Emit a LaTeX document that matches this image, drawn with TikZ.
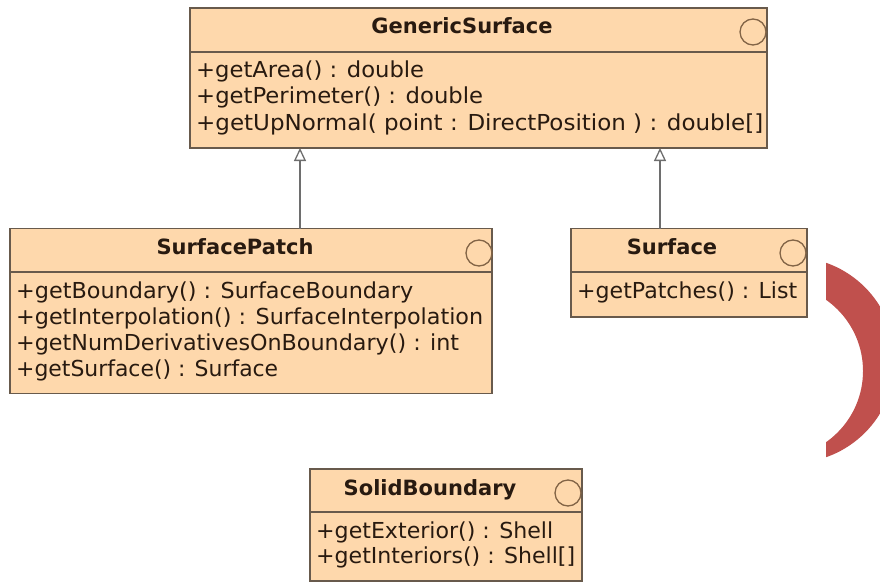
\documentclass[tikz,border=0pt]{standalone}
\usepackage{graphicx}
\usepackage{fontspec}
\setmainfont{DejaVu Sans}
\usetikzlibrary{arrows.meta}

\definecolor{classfill}{RGB}{254,216,172}
\definecolor{classedge}{RGB}{104,90,76}
\definecolor{classtext}{RGB}{40,26,16}
\definecolor{iconline}{RGB}{130,100,70}
\definecolor{linkgray}{RGB}{110,110,110}
\definecolor{accentred}{RGB}{192,80,77}

% set an operation line to a given width, keeping its natural height
\newcommand{\opline}[2]{\resizebox{#1}{\height}{#2}}

\tikzset{
  classbox/.style={draw=classedge, fill=classfill, line width=1.4pt, anchor=north west,
                   inner sep=0pt, outer sep=0pt},
  divider/.style={draw=classedge, line width=1.4pt},
  classname/.style={anchor=base, inner sep=0pt, text=classtext,
                    font=\fontsize{21}{24}\selectfont\bfseries},
  member/.style={anchor=base west, inner sep=0pt, text=classtext,
                 font=\fontsize{22}{26}\selectfont},
  icon/.style={draw=iconline, line width=1.3pt, circle, minimum size=26pt, inner sep=0pt},
  inherit/.style={draw=linkgray, line width=1.3pt,
                  -{Triangle[open, length=13pt, width=12pt, fill=white]}},
}

\begin{document}
\begin{tikzpicture}[x=1pt, y=-1pt]
\useasboundingbox (0,0) rectangle (880,583);

% --- GenericSurface ---
\node[classbox, minimum width=577pt, minimum height=140pt] (gs) at (190,8) {};
\draw[divider] ([yshift=-44pt]gs.north west) -- ([yshift=-44pt]gs.north east);
\node[icon] (gsicon) at (753,32) {};
\node[classname] (gstitle) at (462,34) {GenericSurface};
\node[member] (gsm1) at (196,78) {\opline{228pt}{+getArea() : double}};
\node[member] (gsm2) at (196,104) {\opline{287pt}{+getPerimeter() : double}};
\node[member] (gsm3) at (196,130) {\opline{567pt}{+getUpNormal( point : DirectPosition ) : double[]}};

% --- SurfacePatch ---
\node[classbox, minimum width=482pt, minimum height=165pt] (sp) at (10,228.5) {};
\draw[divider] ([yshift=-43.5pt]sp.north west) -- ([yshift=-43.5pt]sp.north east);
\node[icon] (spicon) at (479,253) {};
\node[classname] (sptitle) at (235,254) {SurfacePatch};
\node[member] (spm1) at (16,298) {\opline{397pt}{+getBoundary() : SurfaceBoundary}};
\node[member] (spm2) at (16,324) {\opline{467pt}{+getInterpolation() : SurfaceInterpolation}};
\node[member] (spm3) at (16,350) {\opline{443pt}{+getNumDerivativesOnBoundary() : int}};
\node[member] (spm4) at (16,376) {\opline{262pt}{+getSurface() : Surface}};

% --- Surface ---
\node[classbox, minimum width=236pt, minimum height=88.5pt] (sf) at (571,228.5) {};
\draw[divider] ([yshift=-43.5pt]sf.north west) -- ([yshift=-43.5pt]sf.north east);
\node[icon] (sficon) at (793,253) {};
\node[classname] (sftitle) at (672,254) {Surface};
\node[member] (sfm1) at (577,298) {\opline{220pt}{+getPatches() : List}};

% --- SolidBoundary ---
\node[classbox, minimum width=272pt, minimum height=112pt] (sb) at (310,469) {};
\draw[divider] ([yshift=-43pt]sb.north west) -- ([yshift=-43pt]sb.north east);
\node[icon] (sbicon) at (568,493) {};
\node[classname] (sbtitle) at (430,495) {SolidBoundary};
\node[member] (sbm1) at (316,538) {\opline{237pt}{+getExterior() : Shell}};
\node[member] (sbm2) at (316,563) {\opline{259pt}{+getInteriors() : Shell[]}};

% --- generalisations ---
\coordinate (spx) at (300,0);
\coordinate (sfx) at (660,0);
\draw[inherit] (sp.north -| spx) -- (gs.south -| spx);
\draw[inherit] (sf.north -| sfx) -- (gs.south -| sfx);

% --- red crescent at the right edge ---
\begin{scope}
  \clip (826,250) rectangle (880,470);
  \fill[accentred, even odd rule] (792,360) circle[radius=103pt] (776,371) circle[radius=87pt];
\end{scope}
\end{tikzpicture}
\end{document}
